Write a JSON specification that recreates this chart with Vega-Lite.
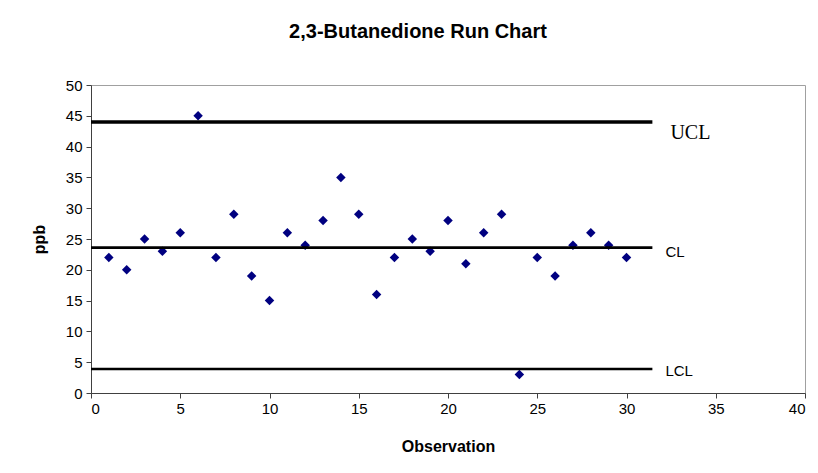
{
  "$schema": "https://vega.github.io/schema/vega-lite/v6.json",
  "width": 714,
  "height": 308,
  "autosize": "none",
  "padding": {"left": 91, "top": 85, "right": 13, "bottom": 80},
  "background": "white",
  "title": {
    "text": "2,3-Butanedione Run Chart",
    "font": "Liberation Sans",
    "fontSize": 20,
    "fontWeight": "bold",
    "color": "black",
    "dx": -30,
    "offset": 36
  },
  "datasets": {
    "obs": [
      {"Observation": 1, "ppb": 22}, {"Observation": 2, "ppb": 20}, {"Observation": 3, "ppb": 25},
      {"Observation": 4, "ppb": 23}, {"Observation": 5, "ppb": 26}, {"Observation": 6, "ppb": 45},
      {"Observation": 7, "ppb": 22}, {"Observation": 8, "ppb": 29}, {"Observation": 9, "ppb": 19},
      {"Observation": 10, "ppb": 15}, {"Observation": 11, "ppb": 26}, {"Observation": 12, "ppb": 24},
      {"Observation": 13, "ppb": 28}, {"Observation": 14, "ppb": 35}, {"Observation": 15, "ppb": 29},
      {"Observation": 16, "ppb": 16}, {"Observation": 17, "ppb": 22}, {"Observation": 18, "ppb": 25},
      {"Observation": 19, "ppb": 23}, {"Observation": 20, "ppb": 28}, {"Observation": 21, "ppb": 21},
      {"Observation": 22, "ppb": 26}, {"Observation": 23, "ppb": 29}, {"Observation": 24, "ppb": 3},
      {"Observation": 25, "ppb": 22}, {"Observation": 26, "ppb": 19}, {"Observation": 27, "ppb": 24},
      {"Observation": 28, "ppb": 26}, {"Observation": 29, "ppb": 24}, {"Observation": 30, "ppb": 22}
    ],
    "limits": [
      {"name": "UCL", "value": 44, "start": 0, "end": 31.45},
      {"name": "CL", "value": 23.6, "start": 0, "end": 31.45},
      {"name": "LCL", "value": 3.9, "start": 0, "end": 31.45}
    ]
  },
  "layer": [
    {
      "data": {"name": "obs"},
      "mark": {"type": "point", "shape": "diamond", "filled": true, "color": "#000080", "size": 90, "opacity": 1},
      "encoding": {
        "x": {
          "field": "Observation", "type": "quantitative", "title": "Observation",
          "scale": {"domain": [0, 40], "nice": false, "zero": true}
        },
        "y": {
          "field": "ppb", "type": "quantitative", "title": "ppb",
          "scale": {"domain": [0, 50], "nice": false}
        }
      }
    },
    {
      "data": {"name": "limits"},
      "mark": {"type": "rule", "color": "black"},
      "encoding": {
        "x": {"field": "start", "type": "quantitative", "title": "Observation"},
        "x2": {"field": "end"},
        "y": {"field": "value", "type": "quantitative", "title": "ppb"},
        "strokeWidth": {
          "field": "name", "type": "nominal",
          "scale": {"domain": ["UCL", "CL", "LCL"], "range": [3.5, 2.4, 2.4]},
          "legend": null
        }
      }
    },
    {
      "data": {"name": "limits"},
      "transform": [{"filter": "datum.name === 'UCL'"}],
      "mark": {"type": "text", "align": "left", "baseline": "alphabetic", "font": "Liberation Serif", "fontSize": 20, "color": "black", "dx": 18, "dy": 17},
      "encoding": {
        "x": {"field": "end", "type": "quantitative", "title": "Observation"},
        "y": {"field": "value", "type": "quantitative", "title": "ppb"},
        "text": {"field": "name"}
      }
    },
    {
      "data": {"name": "limits"},
      "transform": [{"filter": "datum.name === 'CL'"}],
      "mark": {"type": "text", "align": "left", "baseline": "alphabetic", "font": "Liberation Sans", "fontSize": 15, "color": "black", "dx": 13, "dy": 9},
      "encoding": {
        "x": {"field": "end", "type": "quantitative", "title": "Observation"},
        "y": {"field": "value", "type": "quantitative", "title": "ppb"},
        "text": {"field": "name"}
      }
    },
    {
      "data": {"name": "limits"},
      "transform": [{"filter": "datum.name === 'LCL'"}],
      "mark": {"type": "text", "align": "left", "baseline": "alphabetic", "font": "Liberation Sans", "fontSize": 15, "color": "black", "dx": 13, "dy": 7},
      "encoding": {
        "x": {"field": "end", "type": "quantitative", "title": "Observation"},
        "y": {"field": "value", "type": "quantitative", "title": "ppb"},
        "text": {"field": "name"}
      }
    }
  ],
  "config": {
    "view": {"stroke": "#a0a0a0", "strokeWidth": 1},
    "axis": {
      "grid": false,
      "labelFont": "Liberation Sans",
      "labelFontSize": 15,
      "labelColor": "black",
      "labelOverlap": false,
      "tickColor": "#404040",
      "tickSize": 5,
      "domainColor": "#404040",
      "titleFont": "Liberation Sans",
      "titleFontSize": 16,
      "titleFontWeight": "bold",
      "titleColor": "black"
    },
    "axisX": {"tickCount": 8, "labelPadding": 3, "titlePadding": 22},
    "axisY": {"tickCount": 10, "labelPadding": 4, "titlePadding": 18}
  }
}
